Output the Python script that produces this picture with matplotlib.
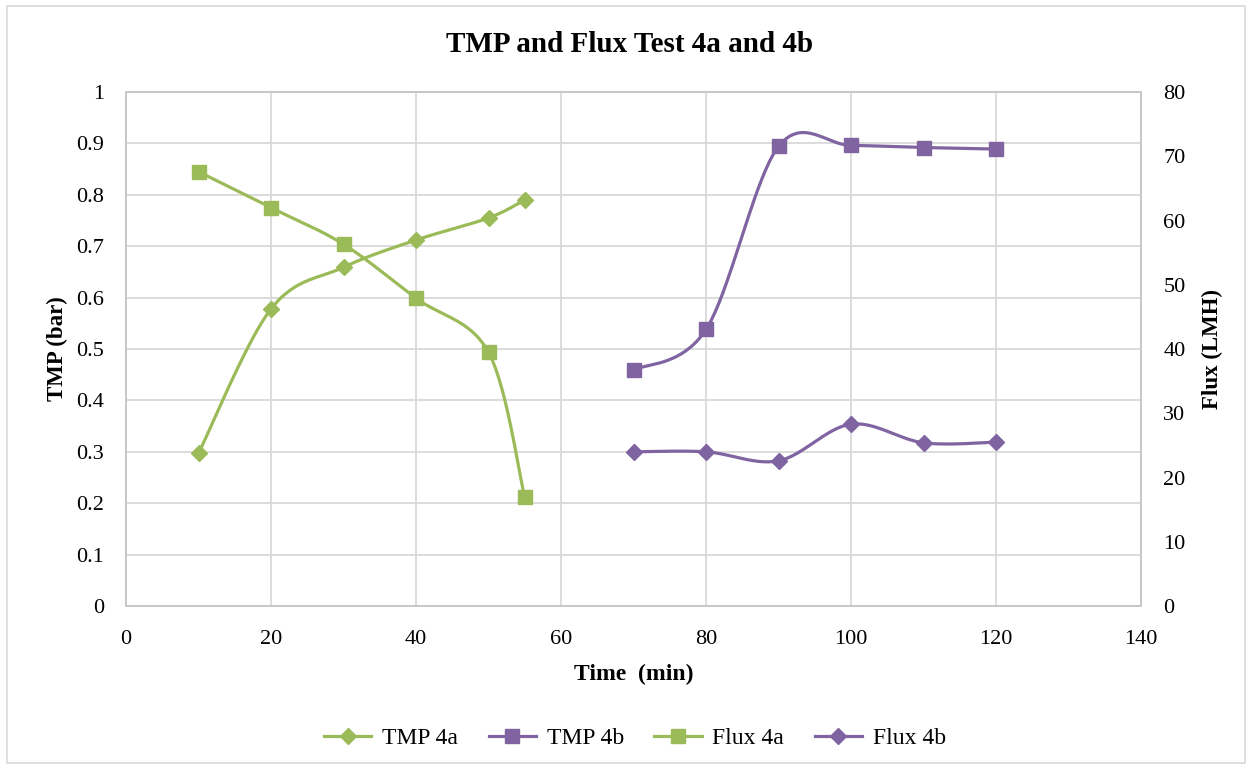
import numpy as np
import matplotlib
matplotlib.use("Agg")
import matplotlib.pyplot as plt
from matplotlib.patches import Rectangle
from matplotlib.lines import Line2D

# ---- data ----
time_4a = [10, 20, 30, 40, 50, 55]
tmp_4a = [0.297, 0.578, 0.659, 0.712, 0.755, 0.790]
flux_4a = [67.6, 62.0, 56.3, 47.9, 39.5, 16.9]
time_4b = [70, 80, 90, 100, 110, 120]
tmp_4b = [0.459, 0.538, 0.894, 0.896, 0.892, 0.889]
flux_4b = [24.0, 24.0, 22.6, 28.3, 25.4, 25.5]
x_ticks = [0, 20, 40, 60, 80, 100, 120, 140]
tmp_ticks = [0, 0.1, 0.2, 0.3, 0.4, 0.5, 0.6, 0.7, 0.8, 0.9, 1]
flux_ticks = [0, 10, 20, 30, 40, 50, 60, 70, 80]

GREEN = "#9BBB59"
PURPLE = "#8064A2"
GRID = "#D9D9D9"
SERIF = ["Liberation Serif", "DejaVu Serif"]

plt.rcParams["font.family"] = SERIF


def smooth(xs, ys, n=40):
    """Excel-like smoothed line (Catmull-Rom as cubic Bezier)."""
    P = np.column_stack([xs, ys]).astype(float)
    m = len(P)
    out = []
    for i in range(m - 1):
        p0 = P[i - 1] if i > 0 else P[i]
        p1 = P[i]
        p2 = P[i + 1]
        p3 = P[i + 2] if i + 2 < m else P[i + 1]
        c1 = p1 + (p2 - p0) / 6.0
        c2 = p2 - (p3 - p1) / 6.0
        t = np.linspace(0, 1, n)[:, None]
        seg = ((1 - t) ** 3) * p1 + 3 * ((1 - t) ** 2) * t * c1 + 3 * (1 - t) * t ** 2 * c2 + t ** 3 * p2
        out.append(seg if i == 0 else seg[1:])
    arr = np.vstack(out)
    return arr[:, 0], arr[:, 1]


fig = plt.figure(figsize=(12.52, 7.69), dpi=100)
fig.patches.append(Rectangle((7 / 1252, 6 / 769), 1238 / 1252, 757 / 769,
                             transform=fig.transFigure, fill=False,
                             edgecolor=GRID, linewidth=1.2))

ax = fig.add_axes([126 / 1252, 1 - 606 / 769, (1141 - 126) / 1252, (606 - 92) / 769])
ax2 = ax.twinx()

lw = 2.3
# TMP 4a
sx, sy = smooth(time_4a, tmp_4a)
ax.plot(sx, sy, color=GREEN, lw=lw, zorder=3)
ax.plot(time_4a, tmp_4a, ls="none", marker="D", ms=8, color=GREEN, zorder=4)
# TMP 4b
sx, sy = smooth(time_4b, tmp_4b)
ax.plot(sx, sy, color=PURPLE, lw=lw, zorder=3)
ax.plot(time_4b, tmp_4b, ls="none", marker="s", ms=10, color=PURPLE, zorder=4)
# Flux 4a
sx, sy = smooth(time_4a, flux_4a)
ax2.plot(sx, sy, color=GREEN, lw=lw, zorder=3)
ax2.plot(time_4a, flux_4a, ls="none", marker="s", ms=10, color=GREEN, zorder=4)
# Flux 4b
sx, sy = smooth(time_4b, flux_4b)
ax2.plot(sx, sy, color=PURPLE, lw=lw, zorder=3)
ax2.plot(time_4b, flux_4b, ls="none", marker="D", ms=8, color=PURPLE, zorder=4)

ax.set_xlim(0, 140)
ax.set_ylim(0, 1)
ax2.set_ylim(0, 80)
ax.set_xticks(x_ticks)
ax.set_yticks(tmp_ticks)
ax.set_yticklabels([f"{v:g}" for v in tmp_ticks])
ax2.set_yticks(flux_ticks)

ax.grid(True, color=GRID, lw=1.3)
ax.set_axisbelow(True)
for a in (ax, ax2):
    for s in a.spines.values():
        s.set_color("#C8C8C8")
        s.set_linewidth(1.3)
    a.tick_params(length=0, labelsize=16, colors="black")
ax.tick_params(axis="y", pad=16)
ax.tick_params(axis="x", pad=17)
ax2.tick_params(axis="y", pad=16)

ax.set_xlabel("Time  (min)", fontsize=17, fontweight="bold", labelpad=11)
ax.set_ylabel("TMP (bar)", fontsize=16.5, fontweight="bold", labelpad=6)
ax2.set_ylabel("Flux (LMH)", fontsize=16.5, fontweight="bold", labelpad=12)

fig.text(630 / 1252, 1 - 44 / 769, "TMP and Flux Test 4a and 4b", ha="center", va="center",
         fontsize=21, fontweight="bold")

handles = [
    Line2D([], [], color=GREEN, lw=lw, marker="D", ms=8),
    Line2D([], [], color=PURPLE, lw=lw, marker="s", ms=10),
    Line2D([], [], color=GREEN, lw=lw, marker="s", ms=10),
    Line2D([], [], color=PURPLE, lw=lw, marker="D", ms=8),
]
labels = ["TMP 4a", "TMP 4b", "Flux 4a", "Flux 4b"]
fig.legend(handles, labels, loc="center", bbox_to_anchor=(635 / 1252, 1 - 738 / 769), ncol=4,
           frameon=False, fontsize=17, handlelength=2.0, handletextpad=0.45, columnspacing=1.3)

fig.savefig("out.png", dpi=100)
